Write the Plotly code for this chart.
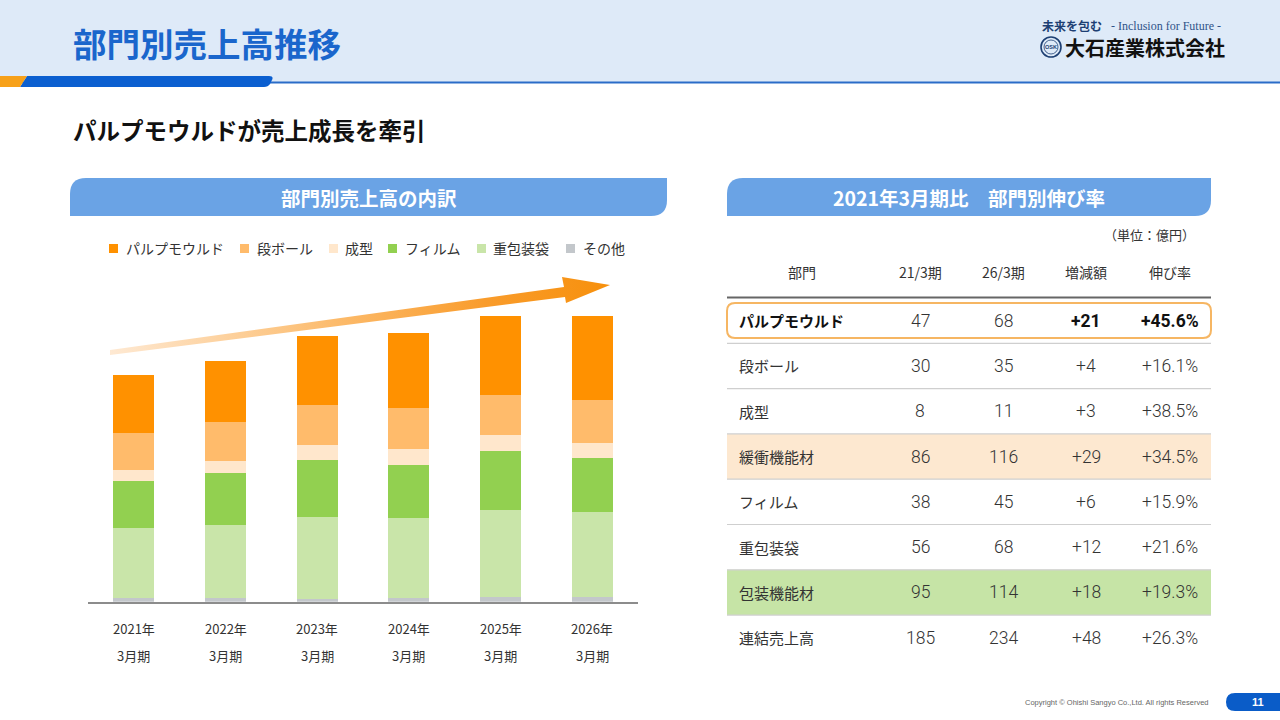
import plotly.graph_objects as go

# ---- data (億円) ----
years = ["2021年", "2022年", "2023年", "2024年", "2025年", "2026年"]
period_label = "3月期"

# stacked segments, bottom to top
other = [3.3, 3.3, 2.2, 3.3, 4.1, 3.8]
juhou = [56.9, 59.6, 67.2, 64.8, 70.8, 69.1]
film = [38.4, 42.4, 46.3, 43.5, 48.4, 44.6]
seikei = [9.0, 9.8, 12.0, 12.8, 12.6, 12.0]
danball = [30.4, 31.6, 32.9, 33.5, 32.9, 35.3]
pulp = [47.1, 49.8, 56.3, 61.5, 64.5, 68.3]

segment_names = ["その他", "重包装袋", "フィルム", "成型", "段ボール", "パルプモウルド"]
segment_values = [other, juhou, film, seikei, danball, pulp]
segment_colors = ["#c3c7cb", "#c9e5a9", "#92d050", "#ffe7cc", "#ffbb6b", "#ff9100"]

# table
table_header = ["部門", "21/3期", "26/3期", "増減額", "伸び率"]
depts = ["パルプモウルド", "段ボール", "成型", "緩衝機能材", "フィルム", "重包装袋", "包装機能材", "連結売上高"]
v21 = ["47", "30", "8", "86", "38", "56", "95", "185"]
v26 = ["68", "35", "11", "116", "45", "68", "114", "234"]
diff = ["+21", "+4", "+3", "+29", "+6", "+12", "+18", "+48"]
rate = ["+45.6%", "+16.1%", "+38.5%", "+34.5%", "+15.9%", "+21.6%", "+19.3%", "+26.3%"]
row_fill = {3: "#fde8d0", 6: "#c6e4a6"}

JP = "Noto Sans CJK JP"
NUM = "Roboto"

fig = go.Figure()

for name, vals, color in zip(segment_names, segment_values, segment_colors):
    fig.add_trace(go.Bar(
        x=years, y=vals, name=name,
        marker=dict(color=color, line=dict(width=0)),
        showlegend=False, hoverinfo="skip",
        xaxis="x", yaxis="y",
    ))

# growth arrow (decoration) on a full-page pixel axis
arrow_x = [110, 564, 562, 610, 566, 565, 110]
arrow_y = [350, 287, 277, 285, 303, 297, 355]
fig.add_trace(go.Scatter(
    x=arrow_x, y=arrow_y, xaxis="x2", yaxis="y2",
    mode="lines", fill="toself",
    line=dict(width=0, color="rgba(0,0,0,0)"),
    fillgradient=dict(type="horizontal", colorscale=[
        [0, "#fee9d3"], [0.45, "#fcbb6c"], [0.75, "#f99c2c"], [1, "#f7900c"]]),
    hoverinfo="skip", showlegend=False,
))

shapes = []
ann = []


def rect(x0, y0, x1, y1, color, layer="below"):
    shapes.append(dict(type="rect", xref="x2", yref="y2", x0=x0, y0=y0, x1=x1, y1=y1,
                       fillcolor=color, line=dict(width=0), layer=layer))


def text(x, y, s, size, color="#333333", anchor="left", family=JP, xref="x2", weight=None):
    font = dict(family=family, size=size, color=color)
    if weight:
        font["weight"] = weight
    ann.append(dict(x=x, y=y, xref=xref, yref="y2", text=s, showarrow=False,
                    xanchor=anchor, yanchor="middle", font=font))


# header band
rect(0, 0, 1280, 82, "#deeaf8")
rect(0, 81.5, 1280, 83.5, "#2a6cc8")
shapes.append(dict(type="path", xref="x2", yref="y2", layer="below",
                   path="M 27,76 L 269,76 Q 274,76 272,80 L 270,84 Q 268,87 264,87 L 20,87 Z",
                   fillcolor="#0b5fd0", line=dict(width=0)))
shapes.append(dict(type="path", xref="x2", yref="y2", layer="below",
                   path="M 0,76 L 27,76 L 20,87 L 0,87 Z",
                   fillcolor="#f7a11a", line=dict(width=0)))

text(71, 42, "<b>部門別売上高推移</b>", 33.5, "#1a66cc")

# logo
text(1040, 25, "<b>未来を包む</b>", 12, "#1d3f73")
text(1223, 26, "- Inclusion for Future -", 12, "#2f5388", "right", "Liberation Serif")
shapes.append(dict(type="circle", xref="x2", yref="y2", x0=1041, y0=37, x1=1061, y1=57,
                   line=dict(color="#1d3f73", width=1.6)))
shapes.append(dict(type="circle", xref="x2", yref="y2", x0=1044, y0=40, x1=1058, y1=54,
                   line=dict(color="#1d3f73", width=0.8)))
text(1051, 47, "<b>OSK</b>", 5.5, "#1d3f73", "center", "Liberation Sans")
text(1063, 47, "<b>大石産業株式会社</b>", 20, "#111111")

text(71, 130, "<b>パルプモウルドが売上成長を牽引</b>", 23.5, "#111111")

# panel headers
for x0, x1, title in [(70, 667, "部門別売上高の内訳"), (727, 1211, "2021年3月期比　部門別伸び率")]:
    shapes.append(dict(type="path", xref="x2", yref="y2", layer="below",
                       path=f"M {x0},216 L {x0},194 Q {x0},178 {x0 + 16},178 L {x1},178 "
                            f"L {x1},200 Q {x1},216 {x1 - 16},216 Z",
                       fillcolor="#6aa3e5", line=dict(width=0)))
    text((x0 + x1) / 2, 197, f"<b>{title}</b>", 19.5, "#ffffff", "center")

# legend (top to bottom order of the stack)
legend_sq = [109, 240, 329, 388, 477, 566]
legend_tx = [124, 255, 343, 403, 491, 581]
for i, (name, color) in enumerate(zip(segment_names[::-1], segment_colors[::-1])):
    rect(legend_sq[i], 244, legend_sq[i] + 9, 253, color)
    text(legend_tx[i], 248, name, 14, "#333333")

# x labels of the bar chart
for yr in years:
    text(yr, 628, yr, 13, "#333333", "center", JP, xref="x")
    text(yr, 655, period_label, 13, "#333333", "center", JP, xref="x")

# table
text(1197, 234, "（単位：億円）", 13, "#333333", "right")
col_x = [802, 920, 1003, 1086, 1170]
for cx, h in zip(col_x, table_header):
    text(cx, 272, h, 14, "#333333", "center")

row_top = 298
row_h = 45.3
for i, color in row_fill.items():
    rect(727, row_top + i * row_h, 1211, row_top + (i + 1) * row_h, color)
for i in range(1, len(depts)):
    yy = row_top + i * row_h
    rect(727, yy - 0.6, 1211, yy + 0.6, "#cfcfcf")
rect(727, 296.5, 1211, 298.5, "#666666")

# highlight box for the first row
shapes.append(dict(type="path", xref="x2", yref="y2", layer="above",
                   path="M 735,303 L 1203,303 Q 1211,303 1211,311 L 1211,330 Q 1211,338 1203,338 "
                        "L 735,338 Q 727,338 727,330 L 727,311 Q 727,303 735,303 Z",
                   fillcolor="rgba(0,0,0,0)", line=dict(color="#f6b663", width=2)))

for i in range(len(depts)):
    yc = row_top + (i + 0.5) * row_h
    bold = i == 0
    name = f"<b>{depts[i]}</b>" if bold else depts[i]
    text(737, yc, name, 15, "#111111" if bold else "#333333")
    text(col_x[1], yc, v21[i], 17.5, "#333333", "center", NUM, weight=300)
    text(col_x[2], yc, v26[i], 17.5, "#333333", "center", NUM, weight=300)
    if bold:
        text(col_x[3], yc, diff[i], 17.5, "#111111", "center", NUM, weight="bold")
        text(col_x[4], yc, rate[i], 17.5, "#111111", "center", NUM, weight="bold")
    else:
        text(col_x[3], yc, diff[i], 17.5, "#333333", "center", NUM, weight=300)
        text(col_x[4], yc, rate[i], 17.5, "#333333", "center", NUM, weight=300)

# footer
text(1211, 702, "Copyright © Ohishi Sangyo Co.,Ltd. All rights Reserved", 7.5, "#666666",
     "right", "Liberation Sans")
shapes.append(dict(type="path", xref="x2", yref="y2", layer="below",
                   path="M 1290,693 L 1235,693 Q 1226,693 1226,702 Q 1226,711 1235,711 L 1290,711 Z",
                   fillcolor="#0a5cc8", line=dict(width=0)))
text(1258, 702, "<b>11</b>", 11, "#ffffff", "center", "Liberation Sans")

fig.update_layout(
    width=1280, height=720,
    margin=dict(l=0, r=0, t=0, b=0),
    paper_bgcolor="#ffffff", plot_bgcolor="rgba(0,0,0,0)",
    barmode="stack", bargap=0.553,
    showlegend=False,
    xaxis=dict(domain=[88 / 1280, 638 / 1280], anchor="y", showticklabels=False, ticks="",
               showgrid=False, zeroline=False, showline=True, linecolor="#8c8c8c",
               linewidth=2, fixedrange=True),
    yaxis=dict(domain=[1 - 601.7 / 720, 1 - 270 / 720], anchor="x", range=[0, 270.7],
               visible=False, fixedrange=True),
    xaxis2=dict(domain=[0, 1], anchor="y2", range=[0, 1280], visible=False, fixedrange=True),
    yaxis2=dict(domain=[0, 1], anchor="x2", range=[720, 0], visible=False, fixedrange=True),
    shapes=shapes,
    annotations=ann,
)

# page body has a default 8px margin; drop it so the slide sits at the window origin
fig.write_html("out.html", config={"displayModeBar": False},
               post_script="document.body.style.margin='0';")
